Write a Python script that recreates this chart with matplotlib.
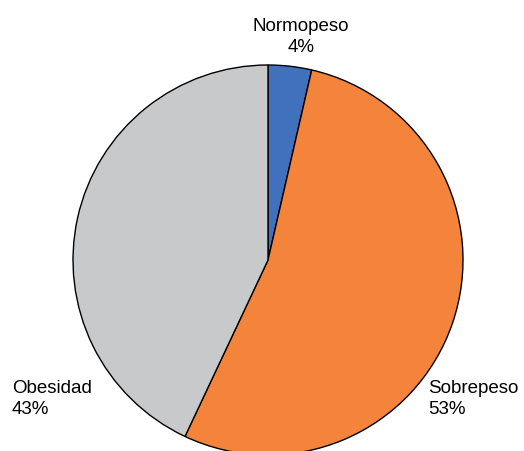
import matplotlib
matplotlib.use("Agg")
import matplotlib.pyplot as plt

categories = ["Normopeso", "Sobrepeso", "Obesidad"]
values = [3.6, 53.4, 43.0]
pct_labels = ["4%", "53%", "43%"]
colors = ["#4170BD", "#F4843C", "#C8C9CB"]

W, H = 524, 451
fig = plt.figure(figsize=(W / 100, H / 100), dpi=100)
ax = fig.add_axes([0, 0, 1, 1])

cx, cy, r = 268, H - 260, 195
ax.pie(values, colors=colors, startangle=90, counterclock=False,
       center=(cx, cy), radius=r, frame=True,
       wedgeprops=dict(edgecolor="black", linewidth=1.0))
ax.set_xlim(0, W)
ax.set_ylim(0, H)
ax.set_aspect("equal")
ax.axis("off")

fam = ["Liberation Sans Narrow", "Liberation Sans", "DejaVu Sans"]
fs = 13.5
ls = 1.3
ax.text(301, H - 37, f"{categories[0]}\n{pct_labels[0]}", ha="center", va="center",
        fontsize=fs, family=fam, linespacing=ls)
ax.text(428, H - 399, f"{categories[1]}\n{pct_labels[1]}", ha="left", va="center",
        fontsize=fs, family=fam, linespacing=ls)
ax.text(12, H - 399, f"{categories[2]}\n{pct_labels[2]}", ha="left", va="center",
        fontsize=fs, family=fam, linespacing=ls)

fig.savefig("out.png", dpi=100)
